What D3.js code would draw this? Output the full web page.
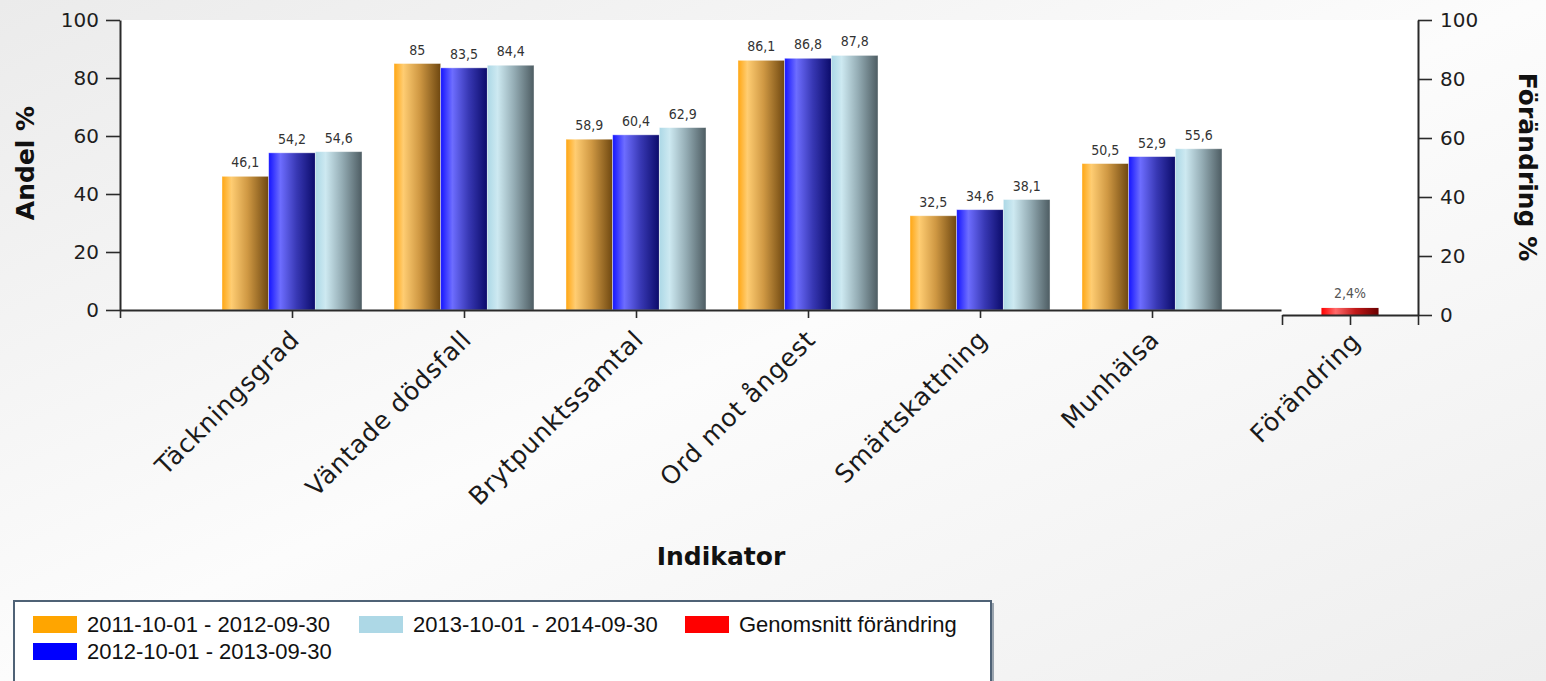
<!DOCTYPE html>
<html>
<head>
<meta charset="utf-8">
<title>Andel per indikator</title>
<script src="https://cdn.jsdelivr.net/npm/d3@7"></script>
<style>
body {
  margin: 0;
  background: #f4f4f4;
}
#chart text {
  font-family: "DejaVu Sans", Verdana, sans-serif;
}
.axis path, .axis line {
  stroke: #2a2a2a;
}
.axis path {
  stroke-width: 2;
}
.axis line {
  stroke-width: 1.6;
}
.axis text {
  font-size: 20px;
  fill: #1e1e1e;
}
.title {
  font-weight: bold;
  font-size: 25px;
  fill: #111;
}
.cat {
  font-size: 25px;
  letter-spacing: 0.8px;
  fill: #1a1a1a;
}
.val {
  font-size: 14px;
  fill: #333;
  stroke: #fff;
  stroke-width: 2.5;
  paint-order: stroke;
}
#chart text.val {
  font-family: "DejaVu Sans Condensed", "DejaVu Sans", sans-serif;
}
#chart text.leg {
  font-family: "Liberation Sans", Arial, sans-serif;
  font-size: 22px;
  fill: #111;
}
</style>
</head>
<body>
<div id="chart"></div>
<script>
// data
var categories = ["Täckningsgrad", "Väntade dödsfall", "Brytpunktssamtal", "Ord mot ångest", "Smärtskattning", "Munhälsa"];
var period1 = [46.1, 85, 58.9, 86.1, 32.5, 50.5];
var period2 = [54.2, 83.5, 60.4, 86.8, 34.6, 52.9];
var period3 = [54.6, 84.4, 62.9, 87.8, 38.1, 55.6];
var seriesNames = ["2011-10-01 - 2012-09-30", "2012-10-01 - 2013-09-30", "2013-10-01 - 2014-09-30", "Genomsnitt förändring"];
var changeCategory = ["Förändring"];
var changeValues = [2.4];
var yTicks = [0, 20, 40, 60, 80, 100];

var W = 1546, H = 681;
var svg = d3.select("#chart").append("svg").attr("width", W).attr("height", H);
var defs = svg.append("defs");

// page background
var bg = defs.append("linearGradient").attr("id", "bg")
  .attr("x1", 0).attr("y1", 0).attr("x2", 1).attr("y2", 1);
bg.append("stop").attr("offset", "0%").attr("stop-color", "#ebebeb");
bg.append("stop").attr("offset", "50%").attr("stop-color", "#fcfcfc");
bg.append("stop").attr("offset", "100%").attr("stop-color", "#eeeeee");
svg.append("rect").attr("width", W).attr("height", H).attr("fill", "url(#bg)");

// cylinder-like bar gradients
function barGrad(id, stops) {
  var g = defs.append("linearGradient").attr("id", id)
    .attr("x1", 0).attr("y1", 0).attr("x2", 1).attr("y2", 0);
  stops.forEach(function(s) {
    g.append("stop").attr("offset", s[0]).attr("stop-color", s[1]);
  });
}
barGrad("g0", [["0%", "#ffa612"], ["20%", "#ffcd72"], ["55%", "#cf9843"], ["100%", "#6e4710"]]);
barGrad("g1", [["0%", "#1414ff"], ["25%", "#6d6dff"], ["60%", "#3838b4"], ["100%", "#0b0b6a"]]);
barGrad("g2", [["0%", "#acd8e6"], ["22%", "#cde9f1"], ["58%", "#93abb3"], ["100%", "#4d5c62"]]);
barGrad("g3", [["0%", "#ff0000"], ["25%", "#ff6a6a"], ["60%", "#c01818"], ["100%", "#6a0000"]]);
var swatch = ["#ffa500", "#0000ff", "#add8e6", "#ff0000"];

// scales
var x = d3.scaleLinear().domain([0, 6.75]).range([120, 1281]);
var y = d3.scaleLinear().domain([0, 100]).range([310, 20]);
var x2 = d3.scaleLinear().domain([0, 2]).range([1282, 1418]);
var y2 = d3.scaleLinear().domain([0, 100]).range([315, 20]);

// plot area
svg.append("rect").attr("x", 120).attr("y", 20).attr("width", 1298).attr("height", 290).attr("fill", "#fff");
svg.append("rect").attr("x", 1280).attr("y", 20).attr("width", 138).attr("height", 295).attr("fill", "#fff");

// bars
var groupW = 0.814, barW = groupW / 3;
var series = [period1, period2, period3];
var fmt = function(v) { return String(v).replace(".", ","); };

series.forEach(function(vals, k) {
  var g = svg.append("g");
  g.selectAll("rect").data(vals).join("rect")
    .attr("x", function(d, i) { return x(i + 1 - groupW / 2 + k * barW); })
    .attr("y", function(d) { return y(d); })
    .attr("width", x(barW) - x(0))
    .attr("height", function(d) { return y(0) - y(d); })
    .attr("fill", "url(#g" + k + ")")
    .attr("stroke", "rgba(255,255,255,0.5)").attr("stroke-width", 0.8);
  g.selectAll("text").data(vals).join("text")
    .attr("class", "val")
    .attr("x", function(d, i) { return x(i + 1 - groupW / 2 + (k + 0.5) * barW); })
    .attr("y", function(d) { return y(d) - 9; })
    .attr("text-anchor", "middle")
    .text(fmt);
});

// change bar (secondary area)
var cw = 0.84;
svg.append("g").selectAll("rect").data(changeValues).join("rect")
  .attr("x", function(d, i) { return x2(i + 1 - cw / 2); })
  .attr("y", function(d) { return y2(d); })
  .attr("width", x2(cw) - x2(0))
  .attr("height", function(d) { return y2(0) - y2(d); })
  .attr("fill", "url(#g3)");
svg.append("g").selectAll("text").data(changeValues).join("text")
  .attr("class", "val")
  .style("fill", "#555")
  .attr("x", function(d, i) { return x2(i + 1); })
  .attr("y", function(d) { return y2(d) - 10; })
  .attr("text-anchor", "middle")
  .text(function(d) { return fmt(d) + "%"; });

// axes
svg.append("g").attr("class", "axis").attr("transform", "translate(120,0)")
  .call(d3.axisLeft(y).tickValues(yTicks).tickSize(14).tickPadding(7).tickSizeOuter(0));
svg.append("g").attr("class", "axis").attr("transform", "translate(1418,0)")
  .call(d3.axisRight(y2).tickValues(yTicks).tickSize(14).tickPadding(8).tickSizeOuter(0));
svg.append("g").attr("class", "axis").attr("transform", "translate(0,310)")
  .call(d3.axisBottom(x).tickValues(d3.range(0, categories.length + 1)).tickSize(8).tickFormat("").tickSizeOuter(0));
svg.append("g").attr("class", "axis").attr("transform", "translate(0,315)")
  .call(d3.axisBottom(x2).tickValues([0, 1, 2]).tickSize(10).tickFormat("").tickSizeOuter(0));
svg.selectAll(".axis .domain").attr("fill", "none");

// category labels
svg.append("g").selectAll("text").data(categories).join("text")
  .attr("class", "cat")
  .attr("text-anchor", "end")
  .attr("transform", function(d, i) { return "translate(" + (x(i + 1) + 9) + ",341) rotate(-45)"; })
  .text(function(d) { return d; });
svg.append("g").selectAll("text").data(changeCategory).join("text")
  .attr("class", "cat")
  .attr("text-anchor", "end")
  .attr("transform", function(d, i) { return "translate(" + (x2(i + 1) + 12) + ",343) rotate(-45)"; })
  .text(function(d) { return d; });

// titles
svg.append("text").attr("class", "title").attr("text-anchor", "middle")
  .attr("transform", "translate(34,163) rotate(-90)").text("Andel %");
svg.append("text").attr("class", "title").attr("text-anchor", "middle")
  .attr("transform", "translate(1519,167) rotate(90)").text("Förändring %");
svg.append("text").attr("class", "title").attr("text-anchor", "middle")
  .attr("x", 721).attr("y", 565).text("Indikator");

// legend
var legPos = [[0, 0], [0, 1], [1, 0], [2, 0]];
var colX = [33, 359, 685], rowY = [616, 643];
svg.append("rect").attr("x", 16).attr("y", 603).attr("width", 978).attr("height", 100).attr("fill", "#9aa4ae");
svg.append("rect").attr("x", 14).attr("y", 601).attr("width", 977).attr("height", 100)
  .attr("fill", "#fff").attr("stroke", "#4f6276").attr("stroke-width", 2);
var items = svg.append("g").selectAll("g").data(seriesNames).join("g")
  .attr("transform", function(d, i) { return "translate(" + colX[legPos[i][0]] + "," + rowY[legPos[i][1]] + ")"; });
items.append("rect").attr("width", 44).attr("height", 17)
  .attr("fill", function(d, i) { return swatch[i]; });
items.append("text").attr("class", "leg").attr("x", 54).attr("y", 16).text(function(d) { return d; });
</script>
</body>
</html>
